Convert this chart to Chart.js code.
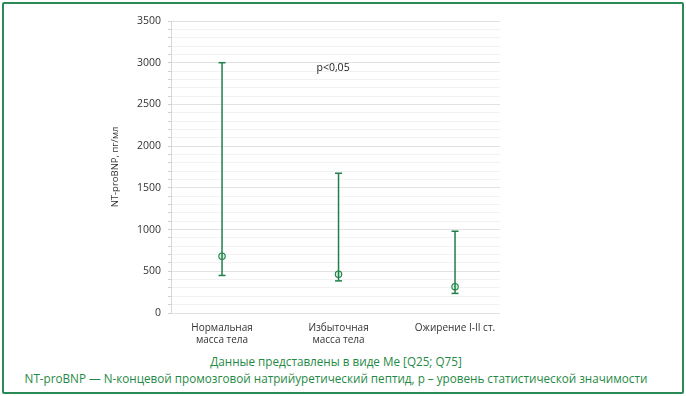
<!DOCTYPE html>
<html>
<head>
<meta charset="utf-8">
<script src="https://cdn.jsdelivr.net/npm/chart.js@4/dist/chart.umd.min.js"></script>
<style>
    html, body { margin: 0; padding: 0; background: #fff; }
    .frame {
        position: absolute; left: 2px; top: 2px; width: 678px; height: 388px;
        border: 2px solid #2a8a55; border-radius: 2px;
    }
    .wrap { position: absolute; left: 0; top: 0; width: 686px; height: 350px; }
    .note {
        position: absolute; left: -7px; width: 686px; text-align: center;
        font-family: "Open Sans", sans-serif; font-size: 11.7px; color: #1f8a45;
    }
</style>
</head>
<body>
<div class="frame"></div>
<div class="wrap"><canvas id="chart"></canvas></div>
<div class="note" style="top:353px">Данные представлены в виде Me [Q25; Q75]</div>
<div class="note" style="top:370px">NT-proBNP — N-концевой промозговой натрийуретический пептид, p – уровень статистической значимости</div>
<script>
const categories = [['Нормальная', 'масса тела'], ['Избыточная', 'масса тела'], 'Ожирение I-II ст.'];
const median = [680, 465, 315];
const q25 = [450, 385, 235];
const q75 = [3000, 1675, 980];
const yTicks = [0, 500, 1000, 1500, 2000, 2500, 3000, 3500];

const green = '#1e8048';

let datasets = [];
categories.forEach((c, i) => {
    datasets.push({
        type: 'line',
        data: [{x: i + 1, y: q25[i]}, {x: i + 1, y: q75[i]}],
        borderColor: green,
        borderWidth: 1.5,
        pointStyle: 'line',
        pointRadius: 3.5,
        pointBorderColor: green,
        pointBorderWidth: 1.5,
        pointHoverRadius: 0,
    });
});
datasets.push({
    type: 'scatter',
    data: median.map((m, i) => ({x: i + 1, y: m})),
    pointRadius: 3.2,
    pointBackgroundColor: '#d9f1df',
    pointBorderColor: green,
    pointBorderWidth: 1.1,
});

const pText = {
    id: 'pText',
    afterDatasetsDraw(chart) {
        let ctx = chart.ctx;
        let x = chart.scales.x.getPixelForValue(1.953);
        let y = chart.scales.y.getPixelForValue(2940);
        ctx.save();
        ctx.font = '10.5px "Open Sans"';
        ctx.fillStyle = '#222';
        ctx.textAlign = 'center';
        ctx.textBaseline = 'middle';
        ctx.fillText('p<0,05', x, y);
        ctx.restore();
    }
};

new Chart(document.getElementById('chart'), {
    data: { datasets: datasets },
    plugins: [pText],
    options: {
        responsive: true,
        maintainAspectRatio: false,
        animation: false,
        layout: { padding: { left: 106, right: 186, top: 21, bottom: 0 } },
        plugins: { legend: { display: false }, tooltip: { enabled: false } },
        scales: {
            x: {
                type: 'linear',
                min: 0.562,
                max: 3.386,
                afterBuildTicks(scale) {
                    scale.ticks = categories.map((c, i) => ({value: i + 1}));
                },
                afterFit(scale) { scale.height = 37; },
                grid: { display: false },
                border: { display: false },
                ticks: {
                    padding: 1,
                    maxRotation: 0,
                    autoSkip: false,
                    color: '#333',
                    font: { family: 'Open Sans', size: 10 },
                    callback: (v) => categories[Math.round(v) - 1],
                },
            },
            y: {
                min: 0,
                max: 3500,
                afterBuildTicks(scale) {
                    let t = [];
                    for (let v = 0; v <= 3500; v += 100) t.push({value: v});
                    scale.ticks = t;
                },
                afterFit(scale) { scale.width = 65; },
                border: { color: '#d8d8d8' },
                grid: {
                    color: (c) => c.tick && c.tick.value % 500 === 0 ? '#e2e2e2' : '#f2f2f2',
                    tickColor: '#cfcfcf',
                    tickLength: 3,
                },
                ticks: {
                    autoSkip: false,
                    padding: 7,
                    color: '#333',
                    font: { family: 'Open Sans', size: 10.5 },
                    callback: (v) => yTicks.includes(v) ? v : '',
                },
                title: {
                    display: true,
                    text: 'NT-proBNP, пг/мл',
                    color: '#333',
                    font: { family: 'Open Sans', size: 9.5 },
                    padding: { top: 4, bottom: 4 },
                },
            },
        },
    },
});
</script>
</body>
</html>
